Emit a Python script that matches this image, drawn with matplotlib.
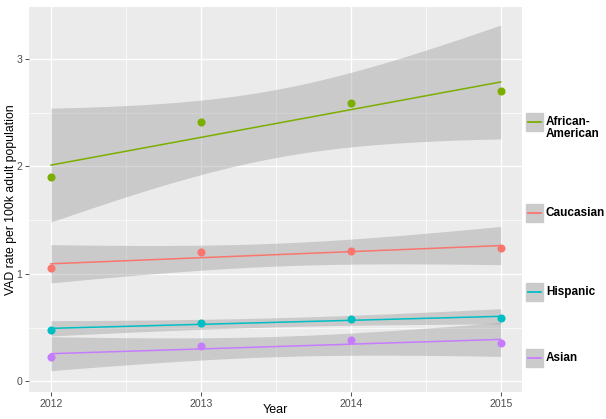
import numpy as np
import matplotlib
matplotlib.use("Agg")
import matplotlib.pyplot as plt
from matplotlib.patches import Rectangle
from matplotlib.lines import Line2D

plt.rcParams['font.family'] = ['Liberation Sans', 'DejaVu Sans']

years = [2012, 2013, 2014, 2015]
groups = ["African-American", "Caucasian", "Hispanic", "Asian"]
legend_labels = ["African-\nAmerican", "Caucasian", "Hispanic", "Asian"]
african_american = [1.90, 2.41, 2.59, 2.70]
caucasian = [1.056, 1.205, 1.212, 1.242]
hispanic = [0.478, 0.547, 0.578, 0.592]
asian = [0.228, 0.326, 0.382, 0.357]
colors = ["#7CAE00", "#F8766D", "#00BFC4", "#C77CFF"]
T_95_DF2 = 4.302653  # t quantile, 95% CI with n-2 = 2 df

series = [african_american, caucasian, hispanic, asian]

fig = plt.figure(figsize=(6.06, 4.19), dpi=100)
ax = fig.add_axes([29/606, 1-392/419, (521.7-29)/606, (392-7)/419])
ax.set_facecolor("#EBEBEB")
for s in ax.spines.values():
    s.set_visible(False)

x = np.array(years, dtype=float)
xs = np.linspace(x.min(), x.max(), 80)
for vals, c in zip(series, colors):
    y = np.array(vals)
    b, a = np.polyfit(x, y, 1)
    yhat = a + b * xs
    resid = y - (a + b * x)
    s = np.sqrt(np.sum(resid**2) / (len(x) - 2))
    sxx = np.sum((x - x.mean())**2)
    se = s * np.sqrt(1/len(x) + (xs - x.mean())**2 / sxx)
    ax.fill_between(xs, yhat - T_95_DF2*se, yhat + T_95_DF2*se,
                    color="#999999", alpha=0.4, linewidth=0, zorder=2)
    ax.plot(xs, yhat, color=c, lw=1.1, zorder=3)
    ax.scatter(x, y, s=34, color=c, zorder=4, linewidths=0)

ax.set_xlim(2011.853, 2015.14)
ax.set_ylim(-0.10, 3.485)
ax.set_xticks(years)
ax.set_xticklabels([str(v) for v in years])
ax.set_yticks([0, 1, 2, 3])
ax.set_xticks([2012.5, 2013.5, 2014.5], minor=True)
ax.set_yticks([0.5, 1.5, 2.5], minor=True)
ax.grid(True, which='major', color='white', lw=1.0, zorder=0)
ax.grid(True, which='minor', color='white', lw=0.5, zorder=0)
ax.set_axisbelow(True)
ax.tick_params(axis='both', which='major', length=2.7, width=0.6, color='#333333',
               labelcolor='#4D4D4D', labelsize=7.6, pad=2)
ax.tick_params(axis='both', which='minor', length=0)
ax.set_xlabel("Year", fontsize=9)
ax.xaxis.set_label_coords(0.5, (392-410)/385)
ax.xaxis.label.set_va('center')
ax.set_ylabel("VAD rate per 100k adult population", fontsize=8.8)
ax.yaxis.set_label_coords((11-29)/492.7, 0.5)
ax.yaxis.label.set_va('center')

# Custom legend keys placed at the right
key_centers = [122, 213, 292, 358]   # pixel y centers of keys
text_centers = [128, 213, 292, 358]  # pixel y centers of labels
W, H = 606, 419
for lab, c, yc, yt in zip(legend_labels, colors, key_centers, text_centers):
    kx0, kw, kh = 526, 17, 18
    fig.patches.append(Rectangle((kx0/W, 1-(yc+kh/2)/H), kw/W, kh/H,
                                 transform=fig.transFigure, color="#CBCBCB", zorder=1))
    fig.lines.append(Line2D([(kx0+2)/W, (kx0+kw-2)/W], [1-yc/H, 1-yc/H],
                            transform=fig.transFigure, color=c, lw=1.3))
    fig.text((kx0+kw+3)/W, 1-yt/H, lab, fontsize=8.5, fontweight='bold',
             va='center', ha='left', linespacing=1.05)

fig.savefig("out.png", dpi=100)
